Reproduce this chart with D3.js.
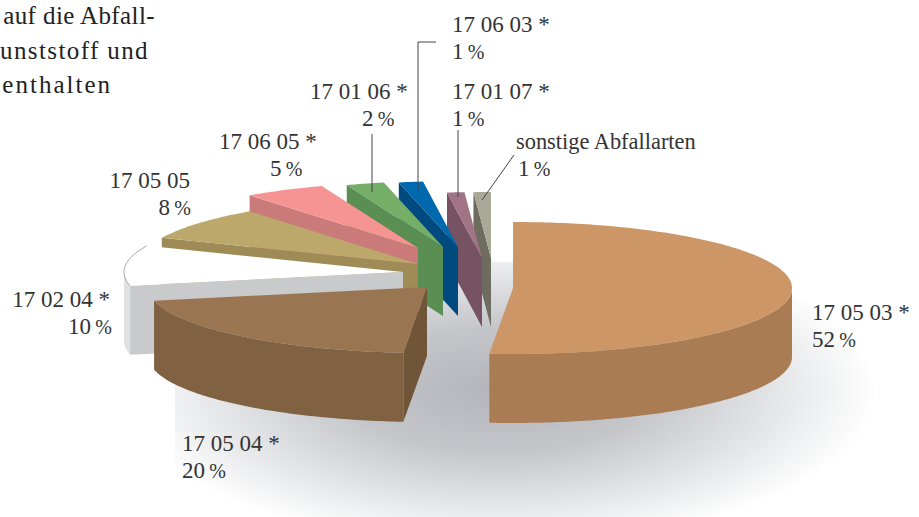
<!DOCTYPE html>
<html>
<head>
<meta charset="utf-8">
<script src="https://cdn.jsdelivr.net/npm/d3@7"></script>
<style>
html, body { margin: 0; padding: 0; background: #fff; overflow: hidden; }
text { font-family: "Liberation Serif", serif; font-size: 23px; fill: #333; }
</style>
</head>
<body>
<div id="chart"></div>
<script>
//Data, clockwise from 12 o'clock
var codes = ["17 05 03 *", "17 05 04 *", "17 02 04 *", "17 05 05", "17 06 05 *", "17 01 06 *", "17 06 03 *", "17 01 07 *", "sonstige Abfallarten"];
var percents = [52, 20, 10, 8, 5, 2, 1, 1, 1];
var shares = [51.3, 20.3, 9.8, 8.2, 4.7, 2.2, 1.4, 1.0, 1.0];
var introLines = ["auf die Abfall-", "unststoff und", "enthalten"];

//Colors per slice
var topColors = ["#cd9666", "#997552", "#ffffff", "#bda86b", "#f69493", "#74ae67", "#0068ac", "#a07385", "#a9a896"];
var rimColors = ["#aa7c54", "#806242", "#dfe0e2", "#9e8b56", "#cb7a7a", "#5a8e53", "#004a80", "#775262", "#6d6c5e"];
var wallColors = ["#aa7c54", "#705538", "#c9cacc", "#9e8b56", "#cb7a7a", "#5a8e53", "#004a80", "#775262", "#6d6c5e"];

//Layout
var width = 919;
var height = 517;
var rx = 279;
var ry = 66;
var depth = 69;
var apexX = [513, 427, 403, 418, 418, 443, 458, 482, 491];
var apexY = [288, 287, 272, 264, 248, 247, 247, 258, 258];
var labelX = [812, 182, 110, 190, 219, 310, 452, 452, 516];
var labelY = [320, 451, 307, 188, 149, 99, 32, 99, 149];
var percentX = [812, 182, 112, 191, 270, 362, 452, 452, 518];
var labelAnchor = ["start", "start", "end", "end", "start", "start", "start", "start", "start"];
var leaders = [
    [[436, 42], [418, 42], [418, 190]],
    [[372, 134], [372, 192]],
    [[458, 130], [458, 197]],
    [[514, 155], [482, 200]]
];

var svg = d3.select("#chart").append("svg")
    .attr("width", width)
    .attr("height", height);

//Soft shadow under the pie, cut off by its box like the original
var grad = svg.append("defs").append("radialGradient")
    .attr("id", "shadow")
    .attr("gradientUnits", "userSpaceOnUse")
    .attr("cx", 0).attr("cy", 0).attr("r", 1)
    .attr("gradientTransform", "translate(498,390) scale(380,156)");
var shadowStops = [[0, "#b3b5ba"], [0.4, "#c4c6ca"], [0.75, "#e6e7e9"], [1, "#ffffff"]];
grad.selectAll("stop").data(shadowStops).enter().append("stop")
    .attr("offset", function(d) { return d[0]; })
    .attr("stop-color", function(d) { return d[1]; });
svg.append("rect")
    .attr("x", 175).attr("y", 262)
    .attr("width", 700).attr("height", 255)
    .attr("fill", "url(#shadow)");

var pie = d3.pie().sort(null).value(function(d) { return d; });
var arcs = pie(shares);
var line = d3.line();

//Point on the slanted circle for angle a, relative to the apex of slice
function rimPoint(i, a, drop) {
    return [apexX[i] + rx * Math.sin(a), apexY[i] - ry * Math.cos(a) + (drop || 0)];
}

function rimPoints(i, a0, a1, drop) {
    var n = Math.max(2, Math.ceil((a1 - a0) * 60));
    return d3.range(n + 1).map(function(k) {
        return rimPoint(i, a0 + (a1 - a0) * k / n, drop);
    });
}

//Paint back to front, the small back slices come first
var order = [8, 7, 6, 5, 4, 3, 2, 1, 0];

order.forEach(function(i) {
    var d = arcs[i];
    var g = svg.append("g").attr("class", "slice");
    var apex = [apexX[i], apexY[i]];

    //Cut wall along the start angle
    if (i > 0) {
        var p = rimPoint(i, d.startAngle);
        g.append("path")
            .attr("d", line([p, apex, [apex[0], apex[1] + depth], [p[0], p[1] + depth]]) + "Z")
            .attr("fill", wallColors[i]);
    }

    //Outer wall, only the part that faces us
    var a0 = Math.max(d.startAngle, Math.PI / 2);
    var a1 = Math.min(d.endAngle, 3 * Math.PI / 2);
    if (a1 > a0) {
        var rimTop = rimPoints(i, a0, a1, 0);
        var rimBottom = rimPoints(i, a0, a1, depth).reverse();
        g.append("path")
            .attr("d", line(rimTop.concat(rimBottom)) + "Z")
            .attr("fill", rimColors[i]);
    }

    //Top face
    var topFace = [apex].concat(rimPoints(i, d.startAngle, d.endAngle, 0));
    g.append("path")
        .attr("d", line(topFace) + "Z")
        .attr("fill", topColors[i]);

    //The white slice only shows up through a thin outline
    if (i === 2) {
        g.append("path")
            .attr("d", line(rimPoints(i, d.startAngle, d.endAngle, 0)))
            .attr("fill", "none")
            .attr("stroke", "#8f8f8f")
            .attr("stroke-width", 0.8);
    }
});

//Leader lines
svg.selectAll(".leader").data(leaders).enter().append("path")
    .attr("class", "leader")
    .attr("d", function(d) { return line(d); })
    .attr("fill", "none")
    .attr("stroke", "#444")
    .attr("stroke-width", 1);

//Labels, the percent sign is set a little smaller
codes.forEach(function(code, i) {
    svg.append("text")
        .attr("x", labelX[i])
        .attr("y", labelY[i])
        .attr("text-anchor", labelAnchor[i])
        .style("font-size", i === 8 ? "22.4px" : null)
        .text(code);
    var pct = svg.append("text")
        .attr("x", percentX[i])
        .attr("y", labelY[i] + 27)
        .attr("text-anchor", labelAnchor[i])
        .style("word-spacing", "-1.5px");
    pct.append("tspan").text(percents[i] + " ");
    pct.append("tspan").style("font-size", "20px").text("%");
});

//Body text top left
var introEnd = [155, 149, 112];
var introBase = [24, 59, 93];
var introSpacing = [0.4, 1.4, 2.0];
introLines.forEach(function(t, i) {
    svg.append("text")
        .attr("x", introEnd[i])
        .attr("y", introBase[i])
        .attr("text-anchor", "end")
        .style("font-size", "25px")
        .style("letter-spacing", introSpacing[i] + "px")
        .style("fill", "#222")
        .text(t);
});
</script>
</body>
</html>
